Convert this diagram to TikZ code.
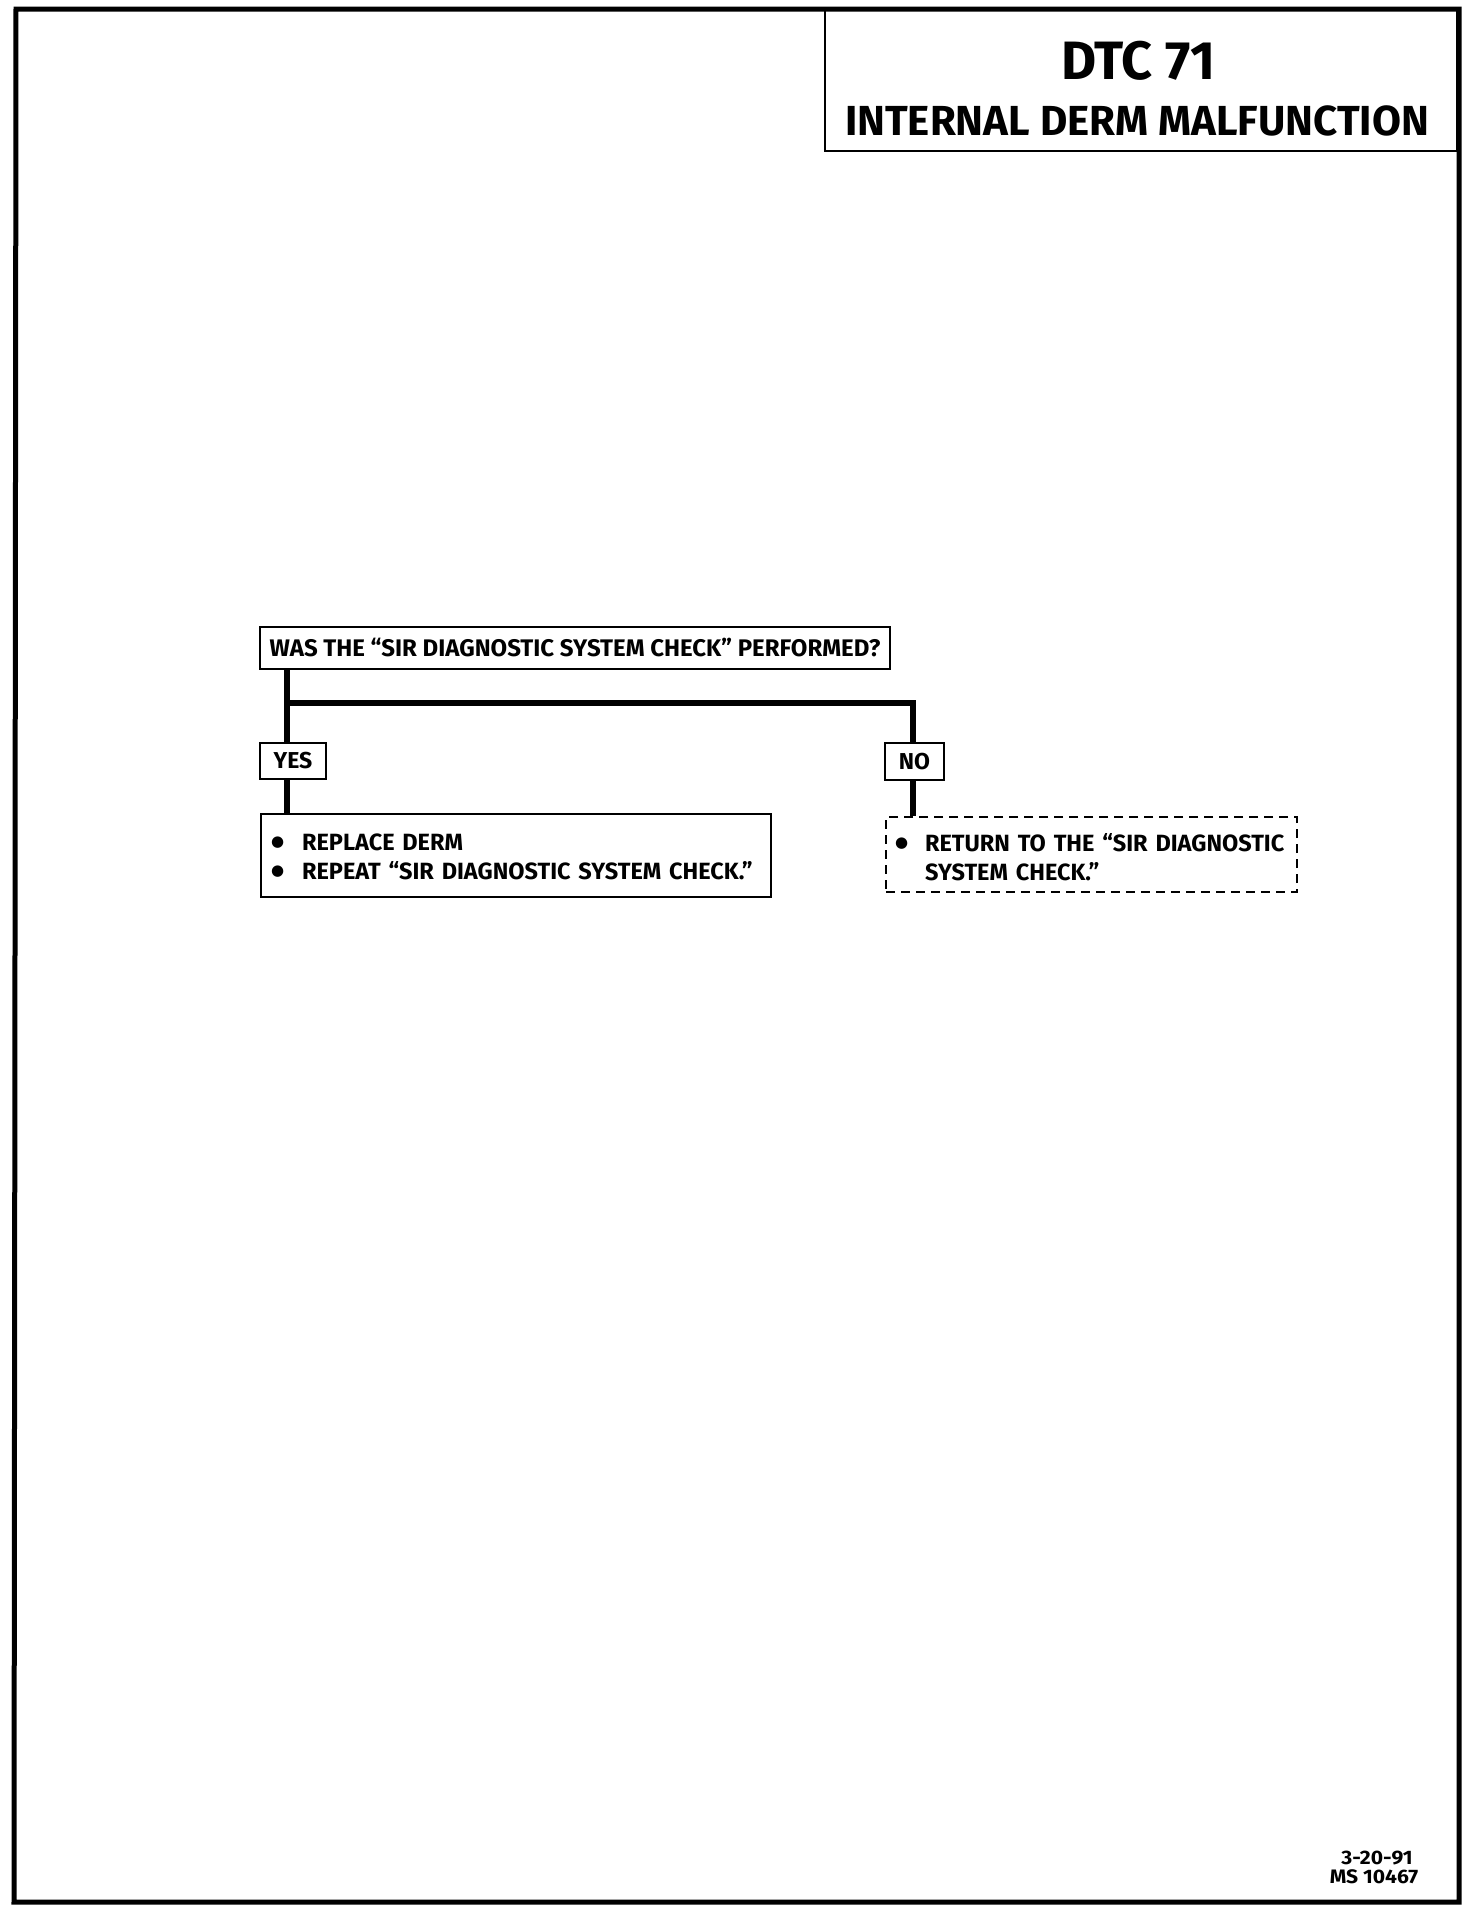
\documentclass[tikz,border=0pt]{standalone}
\usepackage{fontspec}
\setmainfont{Fira Sans}
\newfontfamily\dvfont{DejaVu Sans}
\usetikzlibrary{calc}
\newcommand{\bul}{\raisebox{4pt}{\dvfont\fontsize{15}{15}\selectfont ●}}
\newcommand{\lowered}[2]{\raisebox{-#1}[\height][\depth]{#2}}
\tikzset{
  box/.style={draw, line width=2pt, inner sep=0pt, font=\bfseries\fontsize{23.5}{29}\selectfont},
  tagbox/.style={box, font=\bfseries\fontsize{23}{26}\selectfont},
  link/.style={line width=6pt},
  foot/.style={font=\bfseries\fontsize{19.5}{22}\selectfont, inner sep=0pt, xscale=1.08},
}
\begin{document}
\begin{tikzpicture}[x=1pt,y=-1pt]
\useasboundingbox (0,0) rectangle (1472,1914);
% outer frame
\draw[line width=5pt] (16,9) -- (1459,9) -- (1459,1902) -- (14,1902) -- cycle;
% title box
\node[draw, line width=2.5pt, minimum width=632pt, minimum height=142pt, inner sep=0pt] (tb) at (1141,80) {};
\node[font=\bfseries\fontsize{54}{60}\selectfont] (t1) at (1138,61) {DTC 71};
\node[font=\bfseries\fontsize{42}{48}\selectfont] (t2) at (1137,121) {INTERNAL DERM MALFUNCTION};
% question
\node[box, font=\bfseries\fontsize{24}{28}\selectfont, minimum width=630pt, minimum height=42pt] (q) at (575,648) {WAS THE ``SIR DIAGNOSTIC SYSTEM CHECK'' PERFORMED?};
\node[tagbox, minimum width=66pt, minimum height=36pt] (yes) at (293,761) {YES};
\node[tagbox, minimum width=59pt, minimum height=37pt] (no) at (914.5,761.5) {NO};
\node[box, minimum width=510pt, minimum height=83pt, align=left, text width=490pt] (ya) at (516,855.5)
  {\lowered{4pt}{\begin{tabular}{@{}l@{\hspace{18pt}}l@{}}\bul & REPLACE DERM\\ \bul & REPEAT ``SIR DIAGNOSTIC SYSTEM CHECK.''\end{tabular}}};
\node[box, dashed, dash pattern=on 9pt off 6pt, minimum width=411pt, minimum height=75pt, align=left, text width=393pt] (na) at (1091.5,854.5)
  {\lowered{6pt}{\begin{tabular}{@{}l@{\hspace{17pt}}l@{}}\bul & RETURN TO THE ``SIR DIAGNOSTIC\\ & SYSTEM CHECK.''\end{tabular}}};
% connectors
\coordinate (l) at (287,703);
\coordinate (r) at (913,703);
\draw[link] (q.south -| l) -- (yes.north -| l);
\draw[link] (l) -- (r) -- (no.north -| r);
\draw[link] (yes.south -| l) -- (ya.north -| l);
\draw[link] (no.south -| r) -- (na.north -| r);
% footer
\node[foot] (ft1) at (1377,1858.5) {3-20-91};
\node[foot] (ft2) at (1374,1876.5) {MS 10467};
\end{tikzpicture}
\end{document}
